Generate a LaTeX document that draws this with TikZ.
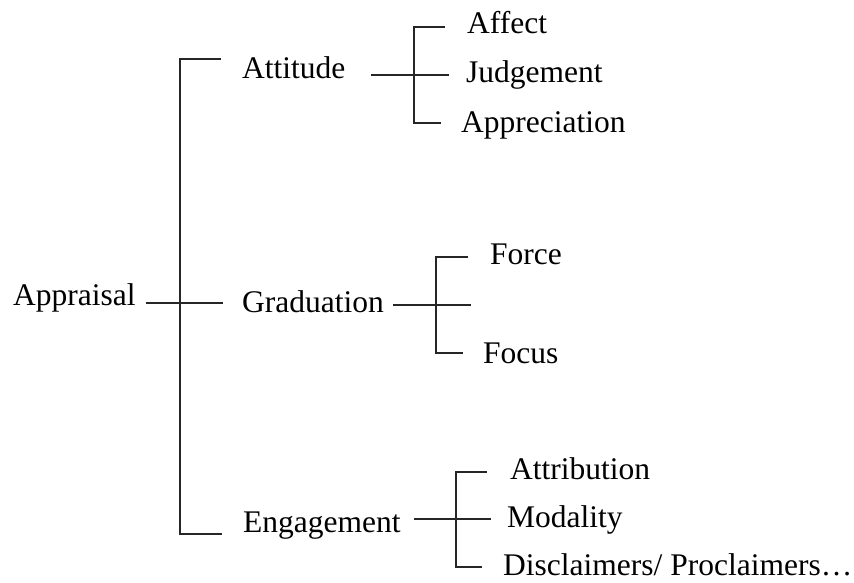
\documentclass[tikz,border=0pt]{standalone}
\usepackage{fontspec}
\setmainfont{Liberation Serif}
\begin{document}
\begin{tikzpicture}[x=1pt,y=-1pt,
  lbl/.style={anchor=base west,inner sep=0pt,font=\fontsize{31.5}{36}\selectfont},
  br/.style={line width=2pt,draw=black!85}]
\useasboundingbox (0,0) rectangle (854,582);
% labels
\node[lbl] (appr) at (13,305) {Appraisal};
\node[lbl] (att) at (242,78) {Attitude};
\node[lbl] (grad) at (242,312) {Graduation};
\node[lbl] (eng) at (243,532) {Engagement};
\node[lbl] (aff) at (467,33) {Affect};
\node[lbl] (jud) at (466,82) {Judgement};
\node[lbl] (app) at (461,132) {Appreciation};
\node[lbl] (for) at (490,264) {Force};
\node[lbl] (foc) at (483,363) {Focus};
\node[lbl] (attr) at (510,479) {Attribution};
\node[lbl] (mod) at (507,527) {Modality};
\node[lbl] (dis) at (503,575) {Disclaimers/ Proclaimers…};
% main bracket coordinates
\coordinate (m0) at (146,303);
\coordinate (mt) at (180,59);
\coordinate (mm) at (180,303);
\coordinate (mb) at (180,534);
\coordinate (mte) at (221,59);
\coordinate (mme) at (223,303);
\coordinate (mbe) at (222,534);
\draw[br] (mte) -- (mt) -- (mb) -- (mbe);
\draw[br] (m0) -- (mme);
% attitude bracket
\coordinate (a0) at (371,75);
\coordinate (at) at (414,27);
\coordinate (ab) at (414,123);
\coordinate (ate) at (445,27);
\coordinate (ame) at (449,75);
\coordinate (abe) at (441,123);
\draw[br] (ate) -- (at) -- (ab) -- (abe);
\draw[br] (a0) -- (ame);
% graduation bracket
\coordinate (g0) at (393,305);
\coordinate (gt) at (436,257);
\coordinate (gb) at (436,353);
\coordinate (gte) at (468,257);
\coordinate (gme) at (471,305);
\coordinate (gbe) at (463,353);
\draw[br] (gte) -- (gt) -- (gb) -- (gbe);
\draw[br] (g0) -- (gme);
% engagement bracket
\coordinate (e0) at (414,519);
\coordinate (et) at (456,472);
\coordinate (eb) at (456,567);
\coordinate (ete) at (487,472);
\coordinate (eme) at (491,519);
\coordinate (ebe) at (482,567);
\draw[br] (ete) -- (et) -- (eb) -- (ebe);
\draw[br] (e0) -- (eme);
\end{tikzpicture}
\end{document}
